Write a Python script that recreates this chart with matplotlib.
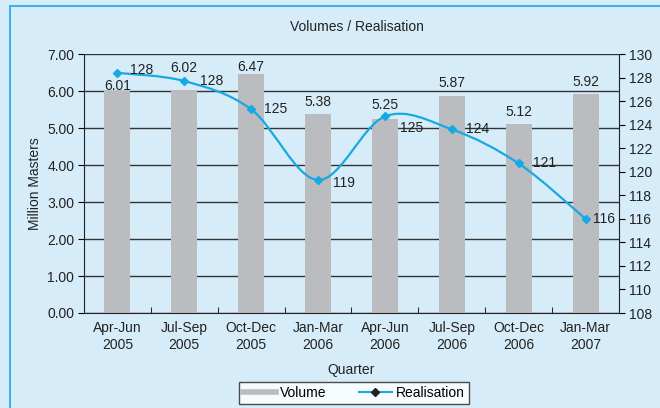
import matplotlib
matplotlib.use('Agg')
import matplotlib.pyplot as plt
from matplotlib.path import Path
from matplotlib.patches import PathPatch, Rectangle
from matplotlib.lines import Line2D

plt.rcParams['font.family'] = ['Liberation Sans', 'DejaVu Sans']

quarters = ['Apr-Jun\n2005', 'Jul-Sep\n2005', 'Oct-Dec\n2005', 'Jan-Mar\n2006',
            'Apr-Jun\n2006', 'Jul-Sep\n2006', 'Oct-Dec\n2006', 'Jan-Mar\n2007']
volume = [6.01, 6.02, 6.47, 5.38, 5.25, 5.87, 5.12, 5.92]
realisation = [128.4, 127.7, 125.3, 119.3, 124.7, 123.6, 120.7, 116.0]
real_labels = ['128', '128', '125', '119', '125', '124', '121', '116']
# label offsets (points) to keep labels clear of the line
vol_dy = [-1.7, 11, -0.6, 3.7, 5.1, 4.4, 3.4, 3.5]
real_dx = [9, 11, 9, 11, 11, 10, 10, 5]
real_dy = [2, 0, 0, -2, -8, 0, 0, 0]

bg = '#d6edf9'
bar_col = '#bbbcc0'
line_col = '#17a9e1'
txt = '#222222'

fig = plt.figure(figsize=(6.6, 4.08), dpi=100, facecolor=bg)
ax = fig.add_axes([84/660, 1 - 313/408, 535/660, 259/408])
ax.set_facecolor(bg)

x = list(range(len(volume)))
ax.bar(x, volume, width=0.39, color=bar_col, zorder=2)
for xi, v, dy in zip(x, volume, vol_dy):
    ax.annotate(f'{v:.2f}', (xi, v), xytext=(0, dy), textcoords='offset points',
                ha='center', va='bottom', fontsize=10, color=txt, zorder=5)

ax.set_xlim(-0.5, 7.5)
ax.set_ylim(0, 7)
ax.set_yticks([0, 1, 2, 3, 4, 5, 6, 7])
ax.set_yticklabels([f'{v:.2f}' for v in range(8)], fontsize=10, color=txt)
ax.set_xticks(x)
ax.set_xticklabels(quarters, fontsize=10, color=txt)
ax.set_xticks([i - 0.5 for i in range(9)], minor=True)
ax.tick_params(axis='x', which='major', length=0, pad=6)
ax.tick_params(axis='x', which='minor', length=4, direction='in')
ax.tick_params(axis='y', length=4, direction='out', pad=3)
ax.yaxis.grid(True, color='#333333', linewidth=1.0, zorder=1)
ax.set_axisbelow(True)
for s in ['top', 'right']:
    ax.spines[s].set_visible(False)
ax.spines['left'].set_color(txt)
ax.spines['bottom'].set_color(txt)
ax.set_ylabel('Million Masters', fontsize=10, color=txt, labelpad=4)
ax.set_xlabel('Quarter', fontsize=10, color=txt, labelpad=8)

ax2 = ax.twinx()
ax2.set_ylim(108, 130)
ax2.set_yticks(list(range(108, 131, 2)))
ax2.tick_params(axis='y', labelsize=10, labelcolor=txt, length=4, direction='out', pad=3)
for s in ['top', 'left', 'bottom']:
    ax2.spines[s].set_visible(False)
ax2.spines['right'].set_color(txt)

# smooth curve through the points (cubic Bezier, Catmull-Rom style)
pts = list(zip(x, realisation))
verts = [pts[0]]
codes = [Path.MOVETO]
n = len(pts)
for i in range(n - 1):
    p0 = pts[i - 1] if i > 0 else pts[i]
    p1 = pts[i]
    p2 = pts[i + 1]
    p3 = pts[i + 2] if i + 2 < n else pts[i + 1]
    t = 1 / 6
    c1 = (p1[0] + (p2[0] - p0[0]) * t, p1[1] + (p2[1] - p0[1]) * t)
    c2 = (p2[0] - (p3[0] - p1[0]) * t, p2[1] - (p3[1] - p1[1]) * t)
    verts += [c1, c2, p2]
    codes += [Path.CURVE4] * 3
ax2.add_patch(PathPatch(Path(verts, codes), facecolor='none', edgecolor=line_col, linewidth=1.6, zorder=3))
ax2.plot(x, realisation, linestyle='none', marker='D', markersize=4.5, color=line_col, zorder=4)
for xi, r, lab, dx, dy in zip(x, realisation, real_labels, real_dx, real_dy):
    ax2.annotate(lab, (xi, r), xytext=(dx, dy), textcoords='offset points',
                 ha='left', va='center', fontsize=10, color=txt, zorder=5)

fig.text(357/660, 1 - 27/408, 'Volumes / Realisation', ha='center', va='center', fontsize=10, color=txt)

handles = [Line2D([0], [0], color=bar_col, linewidth=4),
           Line2D([0], [0], color=line_col, linewidth=1.5, marker='D', markersize=4,
                  markerfacecolor=txt, markeredgecolor=txt)]
leg = fig.legend(handles, ['Volume', 'Realisation'], loc='center', bbox_to_anchor=(354/660, 1 - 393/408),
                 ncol=2, fontsize=10, frameon=True, fancybox=False, edgecolor=txt,
                 handlelength=2.4, columnspacing=2.3, borderpad=0.3, handletextpad=0.3)
leg.get_frame().set_facecolor('white')
leg.get_frame().set_linewidth(1.0)

fig.patches.append(Rectangle((10/660, -0.1), 1.0, 1 - 6/408 + 0.1, transform=fig.transFigure,
                             facecolor='none', edgecolor='#3bb4e5', linewidth=1.5, zorder=0))

fig.savefig('out.png', dpi=100, facecolor=bg)
